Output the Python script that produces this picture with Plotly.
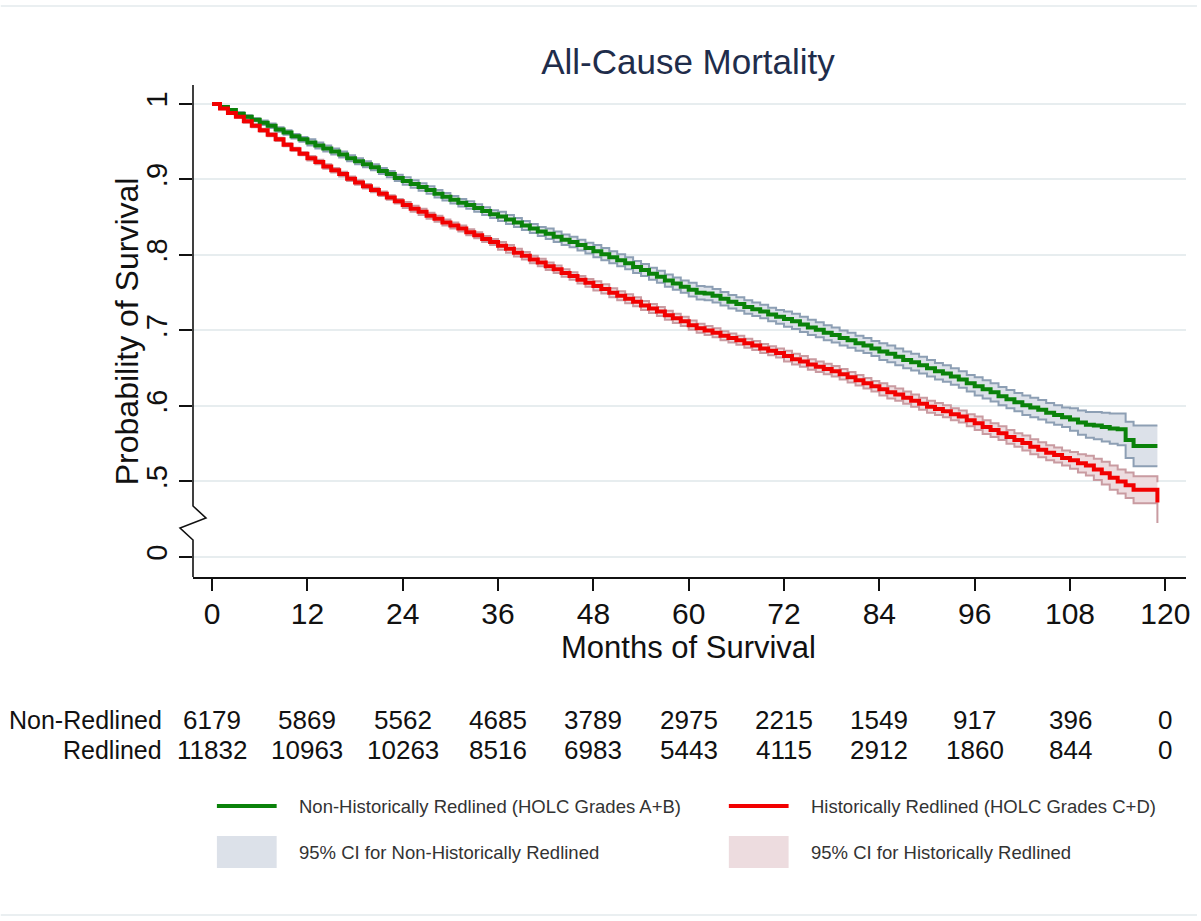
import plotly.graph_objects as go

# ---------------- data ----------------
months = list(range(0, 120))

surv_nonredlined = [
    1.000, 0.996, 0.992, 0.987, 0.983, 0.979, 0.975, 0.971, 0.966, 0.962,
    0.957, 0.953, 0.949, 0.945, 0.941, 0.937, 0.933, 0.928, 0.924, 0.920,
    0.916, 0.911, 0.907, 0.902, 0.898, 0.894, 0.890, 0.886, 0.881, 0.877,
    0.873, 0.869, 0.866, 0.862, 0.858, 0.854, 0.851, 0.847, 0.843, 0.839,
    0.835, 0.831, 0.828, 0.824, 0.820, 0.817, 0.813, 0.809, 0.805, 0.801,
    0.797, 0.793, 0.789, 0.784, 0.780, 0.775, 0.771, 0.766, 0.762, 0.758,
    0.754, 0.750, 0.749, 0.746, 0.742, 0.738, 0.735, 0.731, 0.728, 0.725,
    0.721, 0.718, 0.715, 0.712, 0.708, 0.704, 0.701, 0.697, 0.694, 0.690,
    0.687, 0.683, 0.680, 0.676, 0.672, 0.669, 0.665, 0.661, 0.658, 0.654,
    0.650, 0.646, 0.643, 0.639, 0.635, 0.630, 0.626, 0.622, 0.618, 0.613,
    0.609, 0.605, 0.601, 0.598, 0.595, 0.591, 0.588, 0.585, 0.582, 0.578,
    0.575, 0.574, 0.572, 0.570, 0.569, 0.555, 0.547, 0.547, 0.547, 0.547,
]

surv_redlined = [
    1.000, 0.994, 0.988, 0.983, 0.977, 0.971, 0.965, 0.959, 0.953, 0.946,
    0.940, 0.934, 0.928, 0.923, 0.917, 0.912, 0.907, 0.901, 0.896, 0.891,
    0.886, 0.881, 0.876, 0.871, 0.866, 0.861, 0.857, 0.852, 0.848, 0.843,
    0.839, 0.835, 0.830, 0.826, 0.821, 0.817, 0.812, 0.808, 0.803, 0.799,
    0.794, 0.790, 0.785, 0.781, 0.776, 0.772, 0.767, 0.763, 0.759, 0.755,
    0.750, 0.746, 0.742, 0.738, 0.733, 0.729, 0.725, 0.720, 0.716, 0.712,
    0.707, 0.703, 0.700, 0.697, 0.693, 0.690, 0.687, 0.683, 0.680, 0.676,
    0.673, 0.670, 0.666, 0.662, 0.659, 0.655, 0.652, 0.649, 0.646, 0.642,
    0.638, 0.634, 0.630, 0.626, 0.622, 0.618, 0.615, 0.611, 0.607, 0.603,
    0.599, 0.596, 0.593, 0.589, 0.586, 0.581, 0.577, 0.572, 0.568, 0.564,
    0.559, 0.555, 0.551, 0.546, 0.542, 0.538, 0.535, 0.531, 0.528, 0.524,
    0.521, 0.516, 0.511, 0.505, 0.500, 0.495, 0.489, 0.489, 0.489, 0.472,
]

# half-width of the 95% CI band, read month by month
ci_hw_nonredlined = [
    0.000, 0.001, 0.001, 0.002, 0.002, 0.002, 0.003, 0.003, 0.003, 0.003,
    0.003, 0.003, 0.004, 0.004, 0.004, 0.004, 0.004, 0.004, 0.004, 0.004,
    0.004, 0.004, 0.004, 0.004, 0.005, 0.005, 0.005, 0.005, 0.005, 0.005,
    0.005, 0.005, 0.005, 0.005, 0.005, 0.005, 0.006, 0.006, 0.006, 0.006,
    0.006, 0.006, 0.007, 0.007, 0.007, 0.007, 0.007, 0.007, 0.008, 0.008,
    0.008, 0.008, 0.008, 0.008, 0.008, 0.008, 0.008, 0.008, 0.008, 0.008,
    0.009, 0.009, 0.009, 0.009, 0.009, 0.009, 0.009, 0.009, 0.009, 0.009,
    0.009, 0.009, 0.010, 0.010, 0.010, 0.010, 0.010, 0.010, 0.010, 0.010,
    0.010, 0.010, 0.010, 0.010, 0.011, 0.011, 0.011, 0.011, 0.011, 0.011,
    0.011, 0.011, 0.011, 0.011, 0.011, 0.011, 0.012, 0.012, 0.012, 0.012,
    0.012, 0.012, 0.013, 0.013, 0.013, 0.013, 0.013, 0.013, 0.015, 0.016,
    0.017, 0.018, 0.019, 0.020, 0.021, 0.024, 0.027, 0.027, 0.027, 0.027,
]

ci_hw_redlined = [
    0.000, 0.001, 0.001, 0.001, 0.002, 0.002, 0.002, 0.002, 0.002, 0.002,
    0.002, 0.002, 0.003, 0.003, 0.003, 0.003, 0.003, 0.003, 0.003, 0.003,
    0.003, 0.003, 0.003, 0.003, 0.004, 0.004, 0.004, 0.004, 0.004, 0.004,
    0.004, 0.004, 0.004, 0.004, 0.004, 0.004, 0.005, 0.005, 0.005, 0.005,
    0.005, 0.005, 0.005, 0.005, 0.005, 0.005, 0.005, 0.005, 0.006, 0.006,
    0.006, 0.006, 0.006, 0.006, 0.006, 0.006, 0.006, 0.006, 0.006, 0.006,
    0.006, 0.006, 0.006, 0.006, 0.006, 0.006, 0.006, 0.006, 0.006, 0.006,
    0.006, 0.006, 0.007, 0.007, 0.007, 0.007, 0.007, 0.007, 0.007, 0.007,
    0.007, 0.007, 0.007, 0.007, 0.008, 0.008, 0.008, 0.008, 0.008, 0.008,
    0.008, 0.008, 0.008, 0.008, 0.008, 0.008, 0.009, 0.009, 0.009, 0.009,
    0.009, 0.009, 0.010, 0.010, 0.010, 0.010, 0.010, 0.010, 0.011, 0.012,
    0.013, 0.014, 0.015, 0.016, 0.016, 0.017, 0.018, 0.018, 0.018, 0.027,
]

x_ticks = [0, 12, 24, 36, 48, 60, 72, 84, 96, 108, 120]
# y positions on the broken axis (the "0" label sits one step below .5)
y_tickvals = [0.4, 0.5, 0.6, 0.7, 0.8, 0.9, 1.0]
y_ticktext = ["0", ".5", ".6", ".7", ".8", ".9", "1"]

risk_labels = ["Non-Redlined", "Redlined"]
risk_nonredlined = [6179, 5869, 5562, 4685, 3789, 2975, 2215, 1549, 917, 396, 0]
risk_redlined = [11832, 10963, 10263, 8516, 6983, 5443, 4115, 2912, 1860, 844, 0]

legend_texts = [
    "Non-Historically Redlined (HOLC Grades A+B)",
    "Historically Redlined (HOLC Grades C+D)",
    "95% CI for Non-Historically Redlined",
    "95% CI for Historically Redlined",
]

# ---------------- styling ----------------
FONT = "Liberation Sans, Arial, sans-serif"
GREEN = "#0a820a"
RED = "#f20000"
GREEN_CI_FILL = "#dce1e9"
GREEN_CI_LINE = "#8d9fb4"
RED_CI_FILL = "#eddcdf"
RED_CI_LINE = "#c99ba1"

W, H = 1201, 921
L, R, T, B = 193, 11, 85, 344
PW, PH = W - L - R, H - T - B


def px(xp):
    return (xp - L) / PW


def py(yp):
    return (H - B - yp) / PH


nr_lo = [s - h for s, h in zip(surv_nonredlined, ci_hw_nonredlined)]
nr_hi = [s + h for s, h in zip(surv_nonredlined, ci_hw_nonredlined)]
rd_lo = [s - h for s, h in zip(surv_redlined, ci_hw_redlined)]
rd_hi = [s + h for s, h in zip(surv_redlined, ci_hw_redlined)]

fig = go.Figure()

fig.add_trace(go.Scatter(x=months, y=nr_lo, mode="lines", line=dict(color=GREEN_CI_LINE, width=2, shape="hv"),
                         showlegend=False, hoverinfo="skip"))
fig.add_trace(go.Scatter(x=months, y=nr_hi, mode="lines", line=dict(color=GREEN_CI_LINE, width=2, shape="hv"),
                         fill="tonexty", fillcolor=GREEN_CI_FILL, showlegend=False, hoverinfo="skip"))
fig.add_trace(go.Scatter(x=months, y=rd_lo, mode="lines", line=dict(color=RED_CI_LINE, width=2, shape="hv"),
                         showlegend=False, hoverinfo="skip"))
fig.add_trace(go.Scatter(x=months, y=rd_hi, mode="lines", line=dict(color=RED_CI_LINE, width=2, shape="hv"),
                         fill="tonexty", fillcolor=RED_CI_FILL, showlegend=False, hoverinfo="skip"))
fig.add_trace(go.Scatter(x=months, y=surv_nonredlined, mode="lines", name=legend_texts[0],
                         line=dict(color=GREEN, width=4, shape="hv"), showlegend=False))
fig.add_trace(go.Scatter(x=months, y=surv_redlined, mode="lines", name=legend_texts[1],
                         line=dict(color=RED, width=4, shape="hv"), showlegend=False))

annotations = []
shapes = []

# axis titles
annotations.append(dict(text="Probability of Survival", x=px(127), y=py(331), xref="paper", yref="paper",
                        textangle=-90, showarrow=False, font=dict(family=FONT, size=32, color="#111111"),
                        xanchor="center", yanchor="middle"))
annotations.append(dict(text="Months of Survival", x=px(690), y=py(647), xref="paper", yref="paper",
                        showarrow=False, font=dict(family=FONT, size=31, color="#111111"),
                        xanchor="center", yanchor="middle"))

# risk table
for lab, row, yy in zip(risk_labels, [risk_nonredlined, risk_redlined], [720, 750]):
    annotations.append(dict(text=lab, x=px(164), y=py(yy), xref="paper", yref="paper", showarrow=False,
                            xanchor="right", yanchor="middle", font=dict(family=FONT, size=25, color="#111111")))
    for t, n in zip(x_ticks, row):
        annotations.append(dict(text=str(n), x=t, y=py(yy), xref="x", yref="paper", showarrow=False,
                                xanchor="center", yanchor="middle",
                                font=dict(family=FONT, size=26, color="#111111")))

# legend (drawn manually, 2 x 2 grid)
leg_rows = [806, 852]
leg_cols = [217, 731]
shapes.append(dict(type="line", xref="paper", yref="paper", x0=px(217), x1=px(277), y0=py(806), y1=py(806),
                   line=dict(color=GREEN, width=4)))
shapes.append(dict(type="line", xref="paper", yref="paper", x0=px(731), x1=px(791), y0=py(806), y1=py(806),
                   line=dict(color=RED, width=4)))
shapes.append(dict(type="rect", xref="paper", yref="paper", x0=px(217), x1=px(277), y0=py(836), y1=py(868),
                   line=dict(width=0), fillcolor=GREEN_CI_FILL))
shapes.append(dict(type="rect", xref="paper", yref="paper", x0=px(731), x1=px(791), y0=py(836), y1=py(868),
                   line=dict(width=0), fillcolor=RED_CI_FILL))
for i, txt in enumerate(legend_texts):
    col = i % 2
    row = i // 2
    annotations.append(dict(text=txt, x=px(leg_cols[col] + 80), y=py(leg_rows[row]), xref="paper", yref="paper",
                            showarrow=False, xanchor="left", yanchor="middle",
                            font=dict(family=FONT, size=18.5, color="#333333")))

# broken y-axis line with zig-zag
path = (f"M {px(193)},{py(85)} L {px(193)},{py(506)} L {px(206)},{py(518)} "
        f"L {px(180)},{py(528)} L {px(193)},{py(540)} L {px(193)},{py(577)}")
shapes.append(dict(type="path", xref="paper", yref="paper", path=path, line=dict(color="#111111", width=1.6)))

# faint frame lines of the original graph region
shapes.append(dict(type="line", xref="paper", yref="paper", x0=px(0), x1=px(1201), y0=py(6), y1=py(6),
                   line=dict(color="#eaeff1", width=2)))
shapes.append(dict(type="line", xref="paper", yref="paper", x0=px(0), x1=px(1201), y0=py(915), y1=py(915),
                   line=dict(color="#eaeff1", width=2)))

fig.update_layout(
    width=W, height=H, autosize=False,
    margin=dict(l=L, r=R, t=T, b=B, pad=0),
    paper_bgcolor="white", plot_bgcolor="white",
    title=dict(text="All-Cause Mortality", x=px(690), xref="paper", xanchor="center",
               y=1 - 62 / H, yref="container", yanchor="middle",
               font=dict(family=FONT, size=35, color="#1f2d4b")),
    showlegend=False,
    annotations=annotations,
    shapes=shapes,
    xaxis=dict(range=[-2.4, 122.6], tickvals=x_ticks, ticktext=[str(t) for t in x_ticks],
               showgrid=False, zeroline=False, showline=True, linecolor="#111111", linewidth=1.6,
               ticks="outside", ticklen=12, tickwidth=1.6, tickcolor="#111111",
               tickfont=dict(family=FONT, size=30, color="#111111"), ticklabelstandoff=-3),
    yaxis=dict(range=[0.3735, 1.025], tickvals=y_tickvals, ticktext=y_ticktext, tickangle=-90,
               showgrid=True, gridcolor="#e7edef", gridwidth=1.5, zeroline=False, showline=False,
               ticks="outside", ticklen=13, tickwidth=1.6, tickcolor="#111111",
               tickfont=dict(family=FONT, size=29, color="#111111"), ticklabelstandoff=0),
)

fig.write_html("out.html", config={"displayModeBar": False},
               post_script="document.body.style.margin='0px';document.body.style.overflow='hidden';")
